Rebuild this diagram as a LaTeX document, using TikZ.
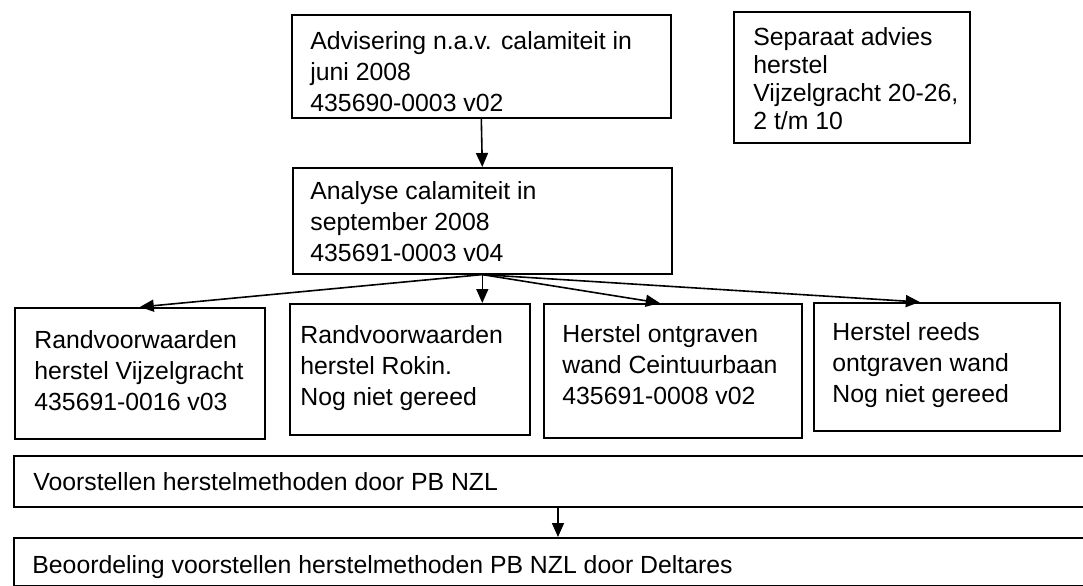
\documentclass[tikz,border=0pt]{standalone}
\usepackage{fontspec}
\setmainfont{Liberation Sans}
\usetikzlibrary{arrows.meta}
\tikzstyle{box} = [rectangle, draw=black, line width=0.8pt, anchor=north west, inner sep=0pt]
\tikzstyle{txt} = [anchor=north west, align=left, inner sep=0pt, font=\fontsize{12.4}{15.5}\selectfont]
\tikzstyle{txttight} = [txt, font=\fontsize{12.4}{14}\selectfont]
\tikzstyle{edge} = [line width=0.8pt, -{Triangle[length=7pt, width=6pt]}]

\begin{document}
\begin{tikzpicture}[x=0.5pt, y=-0.5pt]
\useasboundingbox (0,0) rectangle (1083,585);
\fill[white] (0,0) rectangle (1083,585);

% boxes
\node (adv) [box, minimum width=189.5pt, minimum height=51.5pt] at (291,14) {};
\node (ana) [box, minimum width=189.5pt, minimum height=53pt] at (292,167) {};
\node (sep) [box, minimum width=118pt, minimum height=65.5pt] at (733,11) {};
\node (rvv) [box, minimum width=125pt, minimum height=65.5pt] at (14,307) {};
\node (rrk) [box, minimum width=120pt, minimum height=65.5pt] at (289,303) {};
\node (ceint) [box, minimum width=129pt, minimum height=67pt] at (543,303) {};
\node (reeds) [box, minimum width=123pt, minimum height=64pt] at (813,302) {};
\node (voor) [box, minimum width=543.5pt, minimum height=25.5pt] at (13,455) {};
\node (beo) [box, minimum width=543.5pt, minimum height=24pt] at (13,537) {};

% texts
\node (advt) [txt] at ([xshift=9.5pt, yshift=-8.5pt]adv.north west) {Advisering n.a.v. calamiteit in\\juni 2008\\435690-0003 v02};
\node (anat) [txt] at ([xshift=9pt, yshift=-7pt]ana.north west) {Analyse calamiteit in\\september 2008\\435691-0003 v04};
\node (sept) [txttight] at ([xshift=10pt, yshift=-8pt]sep.north west) {Separaat advies\\herstel\\Vijzelgracht 20-26,\\2 t/m 10};
\node (rvvt) [txt] at ([xshift=10pt, yshift=-11.5pt]rvv.north west) {Randvoorwaarden\\herstel Vijzelgracht\\435691-0016 v03};
\node (rrkt) [txt] at ([xshift=5.5pt, yshift=-11pt]rrk.north west) {Randvoorwaarden\\herstel Rokin.\\Nog niet gereed};
\node (ceintt) [txt] at ([xshift=9.5pt, yshift=-10.5pt]ceint.north west) {Herstel ontgraven\\wand Ceintuurbaan\\435691-0008 v02};
\node (reedst) [txt] at ([xshift=9.5pt, yshift=-10pt]reeds.north west) {Herstel reeds\\ontgraven wand\\Nog niet gereed};
\node (voort) [txt] at ([xshift=10pt, yshift=-8.5pt]voor.north west) {Voorstellen herstelmethoden door PB NZL};
\node (beot) [txt] at ([xshift=9.5pt, yshift=-9pt]beo.north west) {Beoordeling voorstellen herstelmethoden PB NZL door Deltares};

% arrows
\draw [edge] (adv.south) -- (ana.north);
\draw [edge] (ana.south) -- (rvv.north);
\draw [edge] (ana.south) -- (ana.south |- rrk.north);
\draw [edge] (ana.south) -- ([xshift=-6.5pt]ceint.north);
\draw [edge] (ana.south) -- ([xshift=-8.5pt]reeds.north);
\draw [edge] ([xshift=272.5pt]voor.south west) -- ([xshift=272.5pt]beo.north west);

\end{tikzpicture}
\end{document}
